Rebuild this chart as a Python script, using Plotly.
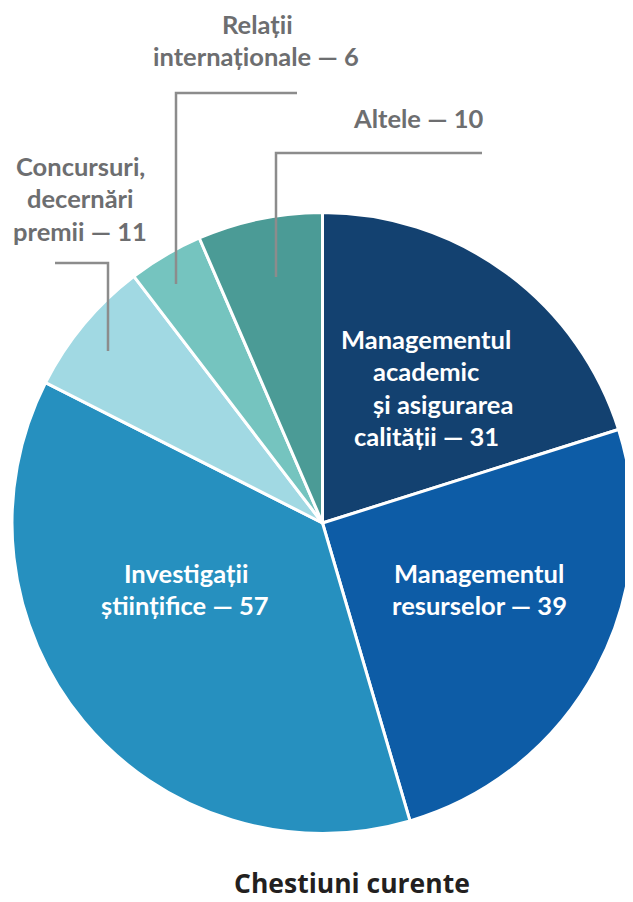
import plotly.graph_objects as go

# ---- data ----
categories = ["Managementul academic<br>și asigurarea<br>calității",
              "Managementul<br>resurselor",
              "Investigații<br>științifice",
              "Concursuri,<br>decernări<br>premii",
              "Relații<br>internaționale",
              "Altele"]
values = [31, 39, 57, 11, 6, 10]
title_text = "Chestiuni curente"

# ---- style / layout ----
colors = ["#134170", "#0D5CA6", "#2690BF", "#A1D9E3", "#75C4BF", "#4B9B96"]
WIN_W, WIN_H = 633, 902
OFF = 8  # default page body margin
W, H = WIN_W - OFF, WIN_H - OFF
cx, cy, r = 323, 523, 311  # in window pixels


def px(X):
    return (X - OFF) / W


def py(Y):
    return 1 - (Y - OFF) / H


fig = go.Figure()
fig.add_trace(go.Pie(
    labels=[c.replace("<br>", " ") for c in categories],
    values=values,
    sort=False, direction="clockwise", rotation=0,
    marker=dict(colors=colors, line=dict(color="white", width=3)),
    textinfo="none", hoverinfo="label+value", showlegend=False,
    domain=dict(x=[max(0.0, px(cx - r)), min(1.0, px(cx + r))],
                y=[py(cy + r + 40), py(cy - r - 40)]),
))


def lines_for(i):
    name = categories[i]
    if i == 0:
        name = "Managementul<br>academic<br>și asigurarea<br>calității"
    return (name + " — " + str(values[i])).split("<br>")


label_layout = {
    0: dict(pos=[(426, 339), (426, 371), (443, 404), (426, 436)], color="white"),
    1: dict(pos=[(479, 573), (479, 605)], color="white"),
    2: dict(pos=[(186, 573), (185, 605)], color="white"),
    3: dict(pos=[(80, 166), (80, 198), (80, 231)], color="#6D6E70"),
    4: dict(pos=[(257, 24), (256, 56)], color="#6D6E70"),
    5: dict(pos=[(418, 118)], color="#6D6E70"),
}

for i, spec in label_layout.items():
    for txt, (X, Y) in zip(lines_for(i), spec["pos"]):
        fig.add_annotation(x=X, y=Y, xref="x", yref="y", text=txt,
                           showarrow=False, xanchor="center", yanchor="middle",
                           font=dict(family="Lato", size=25.5, color=spec["color"], weight="bold"))

leaders = [
    [(55, 263), (108, 263), (108, 351)],
    [(297, 93), (176, 93), (176, 284)],
    [(482, 153), (276, 153), (276, 277)],
]
for pts in leaders:
    path = "M " + " L ".join(f"{x},{y}" for x, y in pts)
    fig.add_shape(type="path", path=path, xref="x", yref="y",
                  line=dict(color="#8C8C8C", width=2.5))

fig.add_annotation(x=352, y=883, xref="x", yref="y", text=title_text,
                   showarrow=False, xanchor="center", yanchor="middle",
                   font=dict(family="Open Sans", size=26.5, color="#231F20", weight="bold"))

fig.update_layout(
    width=W, height=H, margin=dict(l=0, r=0, t=0, b=0),
    paper_bgcolor="white", plot_bgcolor="rgba(0,0,0,0)",
    xaxis=dict(range=[OFF, WIN_W], visible=False, fixedrange=True),
    yaxis=dict(range=[WIN_H, OFF], visible=False, fixedrange=True),
)

fig.write_html("out.html")
